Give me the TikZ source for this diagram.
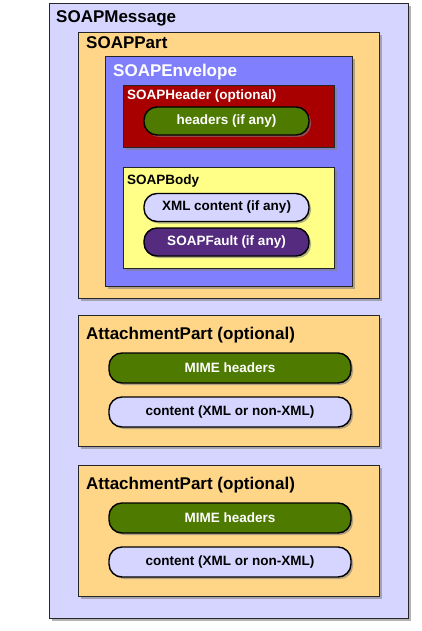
\documentclass[tikz,border=0pt]{standalone}
\usepackage{fontspec}
\setmainfont{Liberation Sans}
\usepackage{tikz}
\usetikzlibrary{positioning,shadows}
\definecolor{lav}{HTML}{D5D5FF}
\definecolor{orng}{HTML}{FFD687}
\definecolor{peri}{HTML}{8080FF}
\definecolor{dred}{HTML}{A80000}
\definecolor{yel}{HTML}{FFFF88}
\definecolor{grn}{HTML}{4E7A00}
\definecolor{purp}{HTML}{552B80}
\tikzset{
  box/.style={draw=black!85,line width=1pt,anchor=north west,inner sep=0pt,
    drop shadow={shadow xshift=2.5pt,shadow yshift=-2.5pt,opacity=.6}},
  msgbox/.style={box,fill=lav},
  partbox/.style={box,fill=orng},
  envbox/.style={box,fill=peri},
  hdrbox/.style={box,fill=dred},
  bodybox/.style={box,fill=yel},
  pill/.style={draw=black,line width=1.4pt,rounded corners=13pt,minimum height=28pt,
    inner sep=0pt,font=\bfseries\fontsize{13.5}{16}\selectfont,
    drop shadow={shadow xshift=2pt,shadow yshift=-2pt,opacity=.6}},
  grnpill/.style={pill,fill=grn,text=white},
  lavpill/.style={pill,fill=lav},
  purppill/.style={pill,fill=purp,text=white},
  ttl/.style={anchor=base west,inner sep=0pt,font=\bfseries\fontsize{17}{20}\selectfont},
  sttl/.style={anchor=base west,inner sep=0pt,font=\bfseries\fontsize{13.5}{16}\selectfont},
}
\begin{document}
\begin{tikzpicture}[x=1pt,y=-1pt]
  \useasboundingbox (0,0) rectangle (422,631);
  \node[msgbox,minimum width=359pt,minimum height=615pt] (msg) at (49,3) {};
  \node[ttl] (tmsg) at (56,23) {SOAPMessage};
  \node[partbox,minimum width=301pt,minimum height=266pt] (part) at (78,32) {};
  \node[ttl] (tpart) at (86,49) {SOAPPart};
  \node[envbox,minimum width=247pt,minimum height=230pt] (env) at (105,56) {};
  \node[ttl,text=white] (tenv) at (113,77) {SOAPEnvelope};
  \node[hdrbox,minimum width=211pt,minimum height=62pt] (hdr) at (123,85) {};
  \node[sttl,text=white] (thdr) at (127,100) {SOAPHeader (optional)};
  \node[grnpill,minimum width=165pt] (hd) at (226.5,121) {headers (if any)};
  \node[bodybox,minimum width=211pt,minimum height=101pt] (body) at (123,167) {};
  \node[sttl] (tbody) at (127,185) {SOAPBody};
  \node[lavpill,minimum width=165pt] (xml) at (226.5,207.5) {XML content (if any)};
  \node[purppill,minimum width=165pt] (flt) at (226.5,242) {SOAPFault (if any)};
  \node[partbox,minimum width=301pt,minimum height=131pt] (att1) at (78,315) {};
  \node[ttl] (tatt1) at (86,339) {AttachmentPart (optional)};
  \node[grnpill,minimum width=242pt,minimum height=30pt] (mime1) at (230,368) {MIME headers};
  \node[lavpill,minimum width=242pt,minimum height=30pt] (cnt1) at (230,412) {content (XML or non-XML)};
  \node[partbox,minimum width=301pt,minimum height=131pt] (att2) at (78,465) {};
  \node[ttl] (tatt2) at (86,489) {AttachmentPart (optional)};
  \node[grnpill,minimum width=242pt,minimum height=30pt] (mime2) at (230,518) {MIME headers};
  \node[lavpill,minimum width=242pt,minimum height=30pt] (cnt2) at (230,562) {content (XML or non-XML)};
\end{tikzpicture}
\end{document}
